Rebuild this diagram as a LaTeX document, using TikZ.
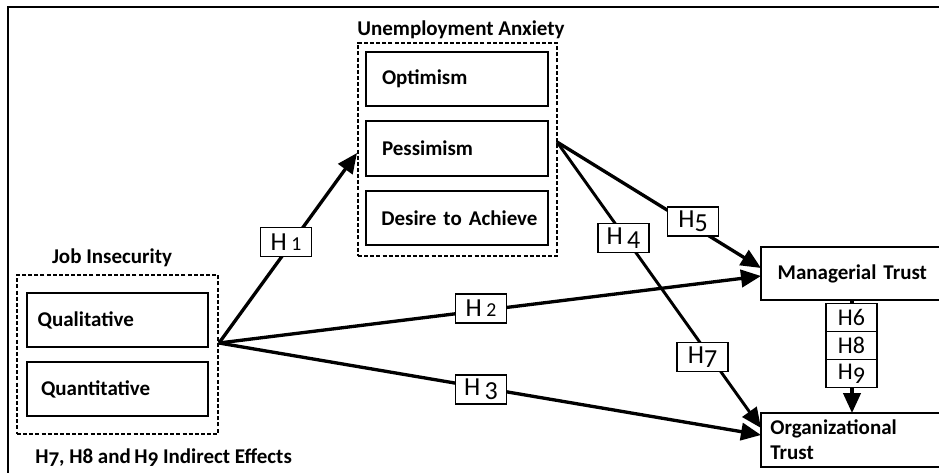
\documentclass[tikz,border=0pt]{standalone}
\usepackage{fontspec}
\usepackage{graphicx}
\setmainfont{Carlito}
\usetikzlibrary{arrows.meta}
\newcommand\dx[1]{\scalebox{0.76}{#1}}
\newcommand\dd[1]{\raisebox{-0.16em}{#1}}
\newcommand\da[1]{#1}
\begin{document}
\begin{tikzpicture}[x=0.75pt,y=-0.75pt,
  titlefont/.style={font=\fontsize{15.75pt}{18.75pt}\selectfont\bfseries},
  box/.style={draw, line width=1.4pt, align=left, titlefont, inner ysep=0pt, inner xsep=1pt},
  group/.style={draw, line width=1.1pt, dash pattern=on 3pt off 1.6pt, inner sep=0pt},
  hlab/.style={draw, fill=white, line width=0.8pt, inner sep=0pt, minimum width=38.25pt, minimum height=21.75pt, font=\fontsize{19.5pt}{20pt}\selectfont},
  slab/.style={draw, fill=white, line width=0.8pt, inner sep=0pt, minimum width=38.25pt, minimum height=21pt, font=\fontsize{18pt}{18pt}\selectfont},
  conn/.style={line width=2.5pt},
  arr/.style={conn, -{Triangle[length=15pt,width=13pt]}}
]
\useasboundingbox (0,0) rectangle (939,472);
\clip (0,0) rectangle (939,472);
% outer frame
\coordinate (fbl) at (8,480);
\coordinate (ftl) at (8,7);
\coordinate (ftr) at (950,7);
\draw[line width=1.1pt] (fbl) -- (ftl) -- (ftr);

% Unemployment Anxiety group
\node[group, minimum width=149.25pt, minimum height=159.75pt] (ua) at (457.5,149.5) {};
\node[titlefont, anchor=base] (uat) at (461,35) {Unemployment Anxiety};
\node[box, text width=134.5pt, minimum height=40.5pt] (opt) at (457,79) {\hspace*{11pt}Optimism};
\node[box, text width=134.5pt, minimum height=41.25pt] (pes) at (457,148.5) {\hspace*{11pt}Pessimism};
\node[box, text width=134.5pt, minimum height=40.5pt] (des) at (457,218) {\hspace*{10.5pt}Desire to Achieve};

% Job Insecurity group
\node[group, minimum width=150.75pt, minimum height=119.25pt] (ji) at (117.5,354.5) {};
\node[titlefont, anchor=base] (jit) at (112,263) {Job Insecurity};
\node[box, text width=133.75pt, minimum height=40.5pt] (qual) at (117.5,320) {\hspace*{7pt}Qualitative};
\node[box, text width=133.75pt, minimum height=40.5pt] (quan) at (117.5,389) {\hspace*{9.5pt}Quantitative};
\node[titlefont, anchor=base west, inner sep=0pt] (ind) at (35,463) {H\dd{7}, H\da{8} and\,H\dd{9} Indirect Effects};

% outcome boxes
\node[box, text width=178pt, minimum height=39.75pt] (mt) at (881,273.5) {\hspace*{11.5pt}Managerial Trust};
\node[box, text width=178pt, minimum height=40.5pt] (ot) at (881,440) {\hspace*{6pt}Organizational\\\hspace*{6pt}Trust};

% connection points
\coordinate (jis) at (219,343);
\coordinate (uas) at (557,142);
\coordinate (uain) at (357,153);
\coordinate (mt5) at (761,268);
\coordinate (mt2) at (761,276);
\coordinate (ot7) at (761,428);
\coordinate (ot3) at (761,435);
\coordinate (mtb) at (852,300);
\coordinate (ott) at (852,413);

% connectors
\draw[arr] (jis) -- (uain);
\draw[arr] (jis) -- (mt2);
\draw[arr] (jis) -- (ot3);
\draw[arr] (uas) -- (mt5);
\draw[arr, line width=2.2pt] (uas) -- (ot7);
\draw[arr] (mtb) -- (ott);

% hypothesis labels
\node[hlab] (h1) at (286,242) {H\,\dx{1}};
\node[hlab] (h2) at (481,308.5) {H\,\dx{2}};
\node[hlab] (h3) at (481,389.5) {H\,\dd{3}};
\node[hlab] (h4) at (623.5,238) {H\,\dd{4}};
\node[hlab] (h5) at (693,221.5) {H\dd{5}};
\node[hlab] (h7) at (702.5,357) {H\dd{7}};
\node[slab] (h6) at (851.5,317.5) {H\da{6}};
\node[slab] (h8) at (851.5,345.5) {H\da{8}};
\node[slab] (h9) at (851.5,373.5) {H\dd{9}};
\end{tikzpicture}
\end{document}
